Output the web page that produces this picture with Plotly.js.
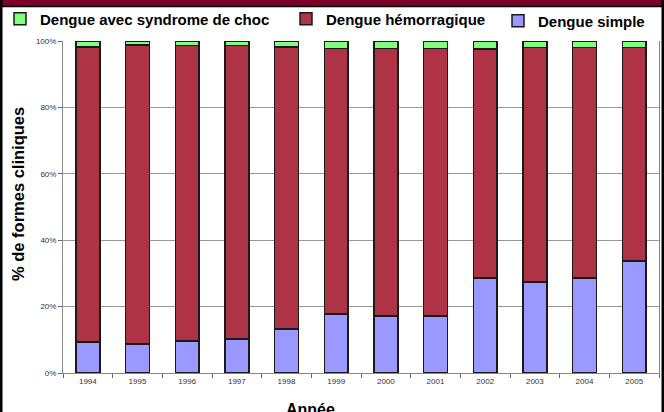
<!DOCTYPE html>
<html><head><meta charset="utf-8">
<script src="https://cdn.plot.ly/plotly-3.0.1.min.js"></script>
<style>html,body{margin:0;padding:0;background:#fff;}#c{width:664px;height:412px;}</style>
</head><body><div id="c"></div>
<script>
var years = ['1994','1995','1996','1997','1998','1999','2000','2001','2002','2003','2004','2005'];
var simple = [9.3, 8.7, 9.6, 10.2, 13.2, 17.8, 17.2, 17.2, 28.6, 27.4, 28.6, 33.7];
var hemorragique = [88.9, 90.1, 89.0, 88.4, 85.0, 79.9, 80.5, 80.5, 69.0, 70.6, 69.4, 64.3];
var choc = [1.8, 1.2, 1.4, 1.4, 1.8, 2.3, 2.3, 2.3, 2.4, 2.0, 2.0, 2.0];
var names = ['Dengue simple', 'Dengue hémorragique', 'Dengue avec syndrome de choc'];
var colors = ['#9999FF', '#AE3445', '#80FF80'];

var L = 63, R = 659, T = 41, B = 373;
var W = R - L, H = B - T;
function px(x){ return (x - L) / W; }
function py(y){ return (B - y) / H; }

var series = [simple, hemorragique, choc];
var legendIds = ['legend3', 'legend2', 'legend'];
var traces = series.map(function(v, i){
  return {type:'bar', x: years, y: v, name: names[i], legend: legendIds[i],
    marker:{color: colors[i], line:{color:'#1a1a1a', width:1.5}},
    hoverinfo:'skip'};
});

var legFont = {family:'Liberation Sans, Arial, sans-serif', size:15, color:'#000', weight:'bold'};
function leg(xpix, ypix){
  return {xref:'container', yref:'container', x: xpix / 664, y: 1 - ypix / 412,
    xanchor:'left', yanchor:'middle', orientation:'h',
    font: legFont, bgcolor:'rgba(0,0,0,0)', borderwidth:0, itemwidth:30};
}

var layout = {
  width:664, height:412,
  margin:{l:L, r:664-R, t:T, b:412-B, autoexpand:false},
  paper_bgcolor:'#fff', plot_bgcolor:'#fff',
  barmode:'stack', bargap:0.52,
  showlegend:true,
  legend: leg(-4, 19),
  legend2: leg(286, 19),
  legend3: leg(498, 21),
  xaxis:{type:'category', showline:true, linecolor:'#888', linewidth:1, mirror:false,
    ticks:'outside', tickson:'boundaries', ticklen:4, tickcolor:'#666', automargin:false,
    tickfont:{family:'Liberation Sans, Arial, sans-serif', size:8, color:'#333'},
    showgrid:false, fixedrange:true},
  yaxis:{range:[0,100], dtick:20, ticksuffix:'%', showline:true, linecolor:'#888', linewidth:1,
    mirror:true, ticks:'outside', ticklen:4, tickcolor:'#666', automargin:false,
    showgrid:true, gridcolor:'#999', gridwidth:1, zeroline:false,
    tickfont:{family:'Liberation Sans, Arial, sans-serif', size:8, color:'#333'},
    fixedrange:true},
  annotations:[
    {xref:'paper', yref:'paper', x:px(310), y:py(399), xanchor:'center', yanchor:'top',
     text:'<b>Année</b>', showarrow:false,
     font:{family:'Liberation Sans, Arial, sans-serif', size:16, color:'#000'}},
    {xref:'paper', yref:'paper', x:px(18), y:py(194), xanchor:'center', yanchor:'middle',
     text:'<b>% de formes cliniques</b>', showarrow:false, textangle:-90,
     font:{family:'Liberation Sans, Arial, sans-serif', size:16.5, color:'#000'}},
    {xref:'paper', yref:'paper', x:px(8), y:py(1), xanchor:'left', yanchor:'bottom',
     text:'<b>Formes cliniques), Martinique, 1994 - 2005</b>', showarrow:false,
     font:{family:'Liberation Serif, Times New Roman, serif', size:20, color:'#fff'}}
  ],
  shapes:[
    {type:'rect', xref:'paper', yref:'paper', x0:px(0), x1:px(664), y0:py(6), y1:py(-20),
     fillcolor:'#7B0029', line:{width:0}, layer:'below'},
    {type:'line', xref:'paper', yref:'paper', x0:px(0), x1:px(664), y0:py(6.5), y1:py(6.5),
     line:{color:'#000', width:1.5}},
    {type:'rect', xref:'paper', yref:'paper', x0:px(0), x1:px(2.5), y0:py(0), y1:py(412),
     fillcolor:'#000', line:{width:0}},
    {type:'rect', xref:'paper', yref:'paper', x0:px(661.5), x1:px(664), y0:py(0), y1:py(412),
     fillcolor:'#000', line:{width:0}}
  ]
};

Plotly.newPlot('c', traces, layout, {displayModeBar:false, staticPlot:true});
</script>
</body></html>
